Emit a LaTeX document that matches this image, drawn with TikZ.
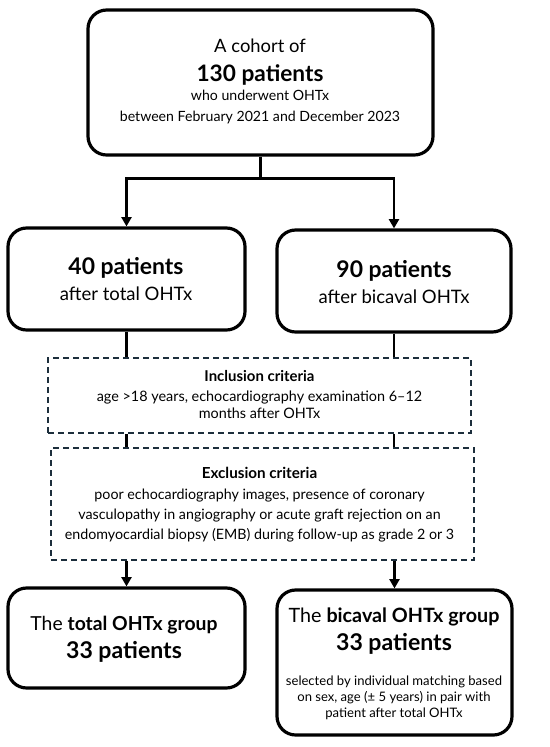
\documentclass[tikz,border=0pt]{standalone}
\usepackage{fontspec}
\setmainfont{Lato}
\usetikzlibrary{arrows.meta}
\definecolor{dashnavy}{HTML}{1C2E3C}
\newcommand{\fsz}[1]{\fontsize{#1}{#1}\selectfont}
\begin{document}
\begin{tikzpicture}[x=0.75pt,y=-0.75pt,
  solidbox/.style={draw=black,line width=2.4pt,rounded corners=14pt,minimum width=#1,inner sep=0pt},
  critbox/.style={draw=dashnavy,line width=1.2pt,dash pattern=on 4.5pt off 3pt,inner sep=0pt},
  conn/.style={line width=2pt},
  arr/.style={line width=2pt,-{Triangle[width=7.5pt,length=7pt]}},
  txt/.style={anchor=base,inner sep=0pt}]
\useasboundingbox (0,0) rectangle (550,747);
% boxes
\node[solidbox=345*0.75pt,minimum height=145*0.75pt] (top) at (260.5,82.5) {};
\node[solidbox=237*0.75pt,minimum height=102*0.75pt] (L1) at (126.5,279) {};
\node[solidbox=234*0.75pt,minimum height=102*0.75pt] (R1) at (394,281) {};
\node[critbox,minimum width=423*0.75pt,minimum height=75*0.75pt] (inc) at (259.5,395.5) {};
\node[critbox,minimum width=423*0.75pt,minimum height=112*0.75pt] (exc) at (262.5,504) {};
\node[solidbox=237*0.75pt,minimum height=100*0.75pt] (L2) at (126.5,638) {};
\node[solidbox=235*0.75pt,minimum height=145*0.75pt] (R2) at (394.5,662.5) {};
% texts
\node[txt] (t1) at (260,52.7) {\fsz{13.8pt}A cohort of};
\node[txt] (t2) at (260,81) {\fsz{17pt}\bfseries 130 patients};
\node[txt] (t3) at (260,100.7) {\fsz{10.6pt}who underwent OHTx};
\node[txt] (t4) at (260,121.7) {\fsz{10.6pt}between February 2021 and December 2023};
\node[txt] (l1a) at (126,274) {\fsz{17.2pt}\bfseries 40 patients};
\node[txt] (l1b) at (126,300.7) {\fsz{13.9pt}after total OHTx};
\node[txt] (r1a) at (394,277.3) {\fsz{17.2pt}\bfseries 90 patients};
\node[txt] (r1b) at (394,303.3) {\fsz{13.9pt}after bicaval OHTx};
\node[txt] (ia) at (259.5,381.7) {\fsz{11.2pt}\bfseries Inclusion criteria};
\node[txt] (ib) at (259.5,401.7) {\fsz{10.8pt}age >18 years, echocardiography examination 6–12};
\node[txt] (ic) at (259.5,418.3) {\fsz{10.8pt}months after OHTx};
\node[txt] (ea) at (259.5,478.3) {\fsz{11.4pt}\bfseries Exclusion criteria};
\node[txt] (eb) at (259.5,499.3) {\fsz{10.7pt}poor echocardiography images, presence of coronary};
\node[txt] (ec) at (259.5,519.3) {\fsz{10.7pt}vasculopathy in angiography or acute graft rejection on an};
\node[txt] (ed) at (259.5,539.3) {\fsz{10.7pt}endomyocardial biopsy (EMB) during follow-up as grade 2 or 3};
\node[txt] (l2a) at (124,630.7) {\fsz{14.5pt}The \textbf{total OHTx group}};
\node[txt] (l2b) at (124,658.3) {\fsz{17.3pt}\bfseries 33 patients};
\node[txt] (r2a) at (394,622.3) {\fsz{14.8pt}The \textbf{bicaval OHTx group}};
\node[txt] (r2b) at (394,650) {\fsz{17.3pt}\bfseries 33 patients};
\node[txt] (r2c) at (394,685) {\fsz{9.8pt}selected by individual matching based};
\node[txt] (r2d) at (394,701.7) {\fsz{9.8pt}on sex, age (± 5 years) in pair with};
\node[txt] (r2e) at (394,717.7) {\fsz{9.8pt}patient after total OHTx};
% connectors
\draw[conn] (top.south) -- ++(0,22) coordinate (split);
\draw[arr] (split) -| (L1.north);
\draw[arr] (split) -| (R1.north);
\draw[conn] (L1.south) -- (L1.south |- inc.north);
\draw[conn] (R1.south) -- (R1.south |- inc.north);
\draw[conn] (L1.south |- inc.south) -- (L1.south |- exc.north);
\draw[conn] (R1.south |- inc.south) -- (R1.south |- exc.north);
\draw[arr] (L2.north |- exc.south) -- (L2.north);
\draw[arr] (R2.north |- exc.south) -- (R2.north);
\end{tikzpicture}
\end{document}
